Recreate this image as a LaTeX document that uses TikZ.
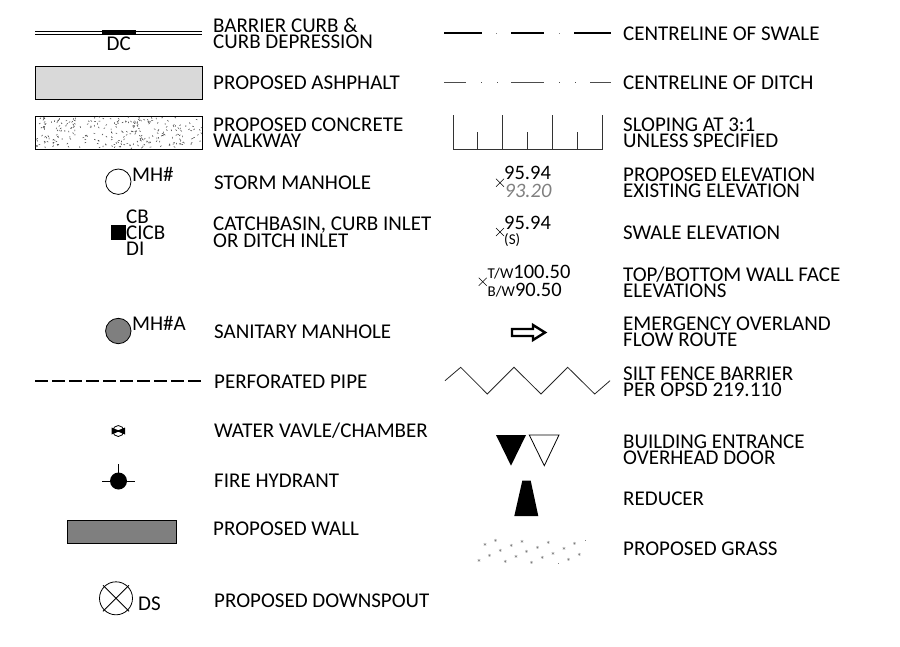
\documentclass[tikz,border=0pt]{standalone}
\usepackage{fontspec}
\setmainfont{Carlito}
\usetikzlibrary{positioning}
\definecolor{ashgray}{HTML}{D9D9D9}
\definecolor{wallgray}{HTML}{7F7F7F}
\tikzset{legendtext/.style = {anchor=west, inner sep=0pt, align=left,
                              font=\fontsize{21}{16.2}\selectfont},
         tagtext/.style = {anchor=west, inner sep=0pt,
                           font=\fontsize{21}{21}\selectfont},
         elevtext/.style = {anchor=west, inner sep=0pt,
                            font=\fontsize{20.5}{20.5}\selectfont},
         symbolline/.style = {line width=0.8pt},
         elevmark/.style = {line width=0.5pt},
         grasstuft/.style = {black!60, inner sep=0pt, font=\fontsize{10}{10}\selectfont}}

\begin{document}
\begin{tikzpicture}[x=1pt, y=-1pt]
    \useasboundingbox (0, 0) rectangle (900, 646);

    \draw [symbolline] (35, 31) -- (202, 31);
    \draw [symbolline] (35, 34.5) -- (202, 34.5);
    \fill (102, 30) rectangle (136, 35);
    \node [tagtext, anchor=center] (dc) at (118.7, 44) {DC};
    \node [legendtext] (curb) at (213, 33.5) {BARRIER CURB \&\\CURB DEPRESSION};

    \draw [symbolline, fill=ashgray] (35.5, 66) rectangle (202, 99);
    \node [legendtext] (ashphalt) at (213, 83) {PROPOSED ASHPHALT};

    \draw [symbolline] (35.5, 116) rectangle (202, 149);
    \pgfmathsetseed{219}
    \foreach \i in {1, ..., 270} {
      \pgfmathsetmacro{\px}{36.5 + 164.5*rnd}
      \pgfmathsetmacro{\py}{117 + 31*rnd}
      \pgfmathsetmacro{\pa}{360*rnd}
      \draw [line width=0.55pt, black!75] (\px, \py) -- ++(\pa:1.6);
    }
    \node [legendtext] (walkway) at (213, 132.5) {PROPOSED CONCRETE\\WALKWAY};

    \draw [symbolline] (118.3, 181.7) circle (12.7);
    \node [tagtext] (mhtag) at (132, 174) {MH\#};
    \node [legendtext] (storm) at (214, 183) {STORM MANHOLE};

    \fill (111, 224.5) rectangle (126, 240);
    \node [tagtext] (cbtag) at (126, 217) {CB};
    \node [tagtext] (cicbtag) at (126, 233) {CICB};
    \node [tagtext] (ditag) at (126, 249) {DI};
    \node [legendtext] (catch) at (213, 232) {CATCHBASIN, CURB INLET\\OR DITCH INLET};

    \draw [symbolline, fill=wallgray] (118.3, 331) circle (12.7);
    \node [tagtext] (mhatag) at (132, 323) {MH\#A};
    \node [legendtext] (sanitary) at (214, 332) {SANITARY MANHOLE};

    \draw [line width=1.2pt, dash pattern=on 12.7pt off 4.3pt] (35, 381) -- (203, 381);
    \node [legendtext] (pipe) at (214, 381.5) {PERFORATED PIPE};

    \draw [symbolline] (118.3, 431) circle (5.5);
    \fill (111.5, 427.5) -- (118.3, 430.3) -- (125, 427.5) -- (125, 434.5)
          -- (118.3, 431.7) -- (111.5, 434.5) -- cycle;
    \node [legendtext] (valve) at (214, 431) {WATER VAVLE/CHAMBER};

    \fill (118.5, 481) circle (8.5);
    \draw [symbolline] (102, 481) -- (135, 481);
    \draw [symbolline] (118.5, 464) -- (118.5, 481);
    \node [legendtext] (hydrant) at (214, 481) {FIRE HYDRANT};

    \draw [symbolline, fill=wallgray] (67.3, 520) rectangle (176, 543.5);
    \node [legendtext] (wall) at (213, 529) {PROPOSED WALL};

    \draw [symbolline] (116, 598.3) circle (16.5);
    \draw [symbolline] (103, 585.3) -- (129, 611.3);
    \draw [symbolline] (129, 585.3) -- (103, 611.3);
    \node [tagtext] (dstag) at (138, 604) {DS};
    \node [legendtext] (downspout) at (214, 601) {PROPOSED DOWNSPOUT};

    \draw [line width=1.5pt] (444, 33) -- (482, 33);
    \draw [line width=1.5pt] (511, 33) -- (544, 33);
    \draw [line width=1.5pt] (574, 33) -- (611, 33);
    \fill [black!50] (495.7, 32.5) rectangle +(1, 1);
    \fill [black!50] (558.7, 32.5) rectangle +(1, 1);
    \node [legendtext] (swale) at (623, 33.5) {CENTRELINE OF SWALE};

    \draw [symbolline, black!70] (444, 82.5) -- (466, 82.5);
    \draw [symbolline, black!70] (511, 82.5) -- (544, 82.5);
    \draw [symbolline, black!70] (590, 82.5) -- (611, 82.5);
    \foreach \x in {481, 497, 559, 575}
      \fill [black!70] (\x, 82) rectangle +(1.1, 1.1);
    \node [legendtext] (ditch) at (623, 83) {CENTRELINE OF DITCH};

    \draw [symbolline, black!80] (453, 149) -- (602.5, 149);
    \foreach \x in {453, 502.7, 552.7, 602}
      \draw [symbolline, black!80] (\x, 115) -- (\x, 149);
    \foreach \x in {477.7, 527.7, 577.3}
      \draw [symbolline, black!80] (\x, 132) -- (\x, 149);
    \node [legendtext] (slope) at (623, 132.5) {SLOPING AT 3:1\\UNLESS SPECIFIED};

    \draw [elevmark] (496, 178.7) -- (504, 186.7);
    \draw [elevmark] (504, 178.7) -- (496, 186.7);
    \node [elevtext] (prop) at (504, 172.5) {95.94};
    \node [elevtext, text=black!50, font=\fontsize{20.5}{20.5}\selectfont\itshape] (exist) at (504.5, 191) {93.20};
    \node [legendtext] (elev) at (623, 182.5) {PROPOSED ELEVATION\\EXISTING ELEVATION};

    \draw [elevmark] (496, 228) -- (504, 236);
    \draw [elevmark] (504, 228) -- (496, 236);
    \node [elevtext] (swaletop) at (504, 222.5) {95.94};
    \node [anchor=west, inner sep=0pt, font=\fontsize{15}{15}\selectfont] (swaletag) at (504, 240.5) {(S)};
    \node [legendtext] (swaleelev) at (623, 232.5) {SWALE ELEVATION};

    \draw [elevmark] (478.7, 277.7) -- (486.7, 285.7);
    \draw [elevmark] (486.7, 277.7) -- (478.7, 285.7);
    \node [elevtext] (topwall) at (487.5, 272.5) {{\fontsize{15}{15}\selectfont T/W}100.50};
    \node [elevtext] (botwall) at (487.5, 290) {{\fontsize{15}{15}\selectfont B/W}90.50};
    \node [legendtext] (wallface) at (623, 282.5) {TOP/BOTTOM WALL FACE\\ELEVATIONS};

    \draw [line width=2.4pt, line join=miter] (512, 329) -- (533, 329) -- (533, 325)
          -- (545, 332.5) -- (533, 340) -- (533, 336) -- (512, 336) -- cycle;
    \node [legendtext] (overland) at (623, 331.5) {EMERGENCY OVERLAND\\FLOW ROUTE};

    \draw [symbolline, black!85] (445, 380.7) -- (460.7, 367.3) -- (487.3, 394) -- (514, 367.3)
          -- (541, 394) -- (567.7, 367.3) -- (594.7, 394) -- (610, 380.7);
    \node [legendtext] (silt) at (623, 381.5) {SILT FENCE BARRIER\\PER OPSD 219.110};

    \fill (496, 435) -- (526, 435) -- (511, 465.7) -- cycle;
    \draw [symbolline] (529.3, 435) -- (559, 435) -- (544.3, 465.7) -- cycle;
    \node [legendtext] (entrance) at (623, 449.5) {BUILDING ENTRANCE\\OVERHEAD DOOR};

    \fill (522.3, 480.7) -- (530.7, 480.7) -- (538.3, 516) -- (514.3, 516) -- cycle;
    \node [legendtext] (reducer) at (623, 498.5) {REDUCER};

    \foreach \x/\y in {485/545, 495.7/540.7, 511.3/546.3, 522/541.7, 537.7/547.7, 548.3/543,
                       574.7/544.3, 564/549, 500.3/551, 489.7/555.7, 479/560.7, 516/557,
                       526.7/552.3, 505.3/561.7, 542.3/558.3, 553/553.7, 531.7/562.7,
                       568.7/559.7, 579.3/555}
      \node [grasstuft] at (\x, \y+2) {*};
    \fill [black!50] (584.7, 540.3) rectangle +(0.8, 0.8);
    \fill [black!50] (557.7, 563) rectangle +(0.8, 0.8);
    \node [legendtext] (grass) at (623, 549) {PROPOSED GRASS};
\end{tikzpicture}
\end{document}
